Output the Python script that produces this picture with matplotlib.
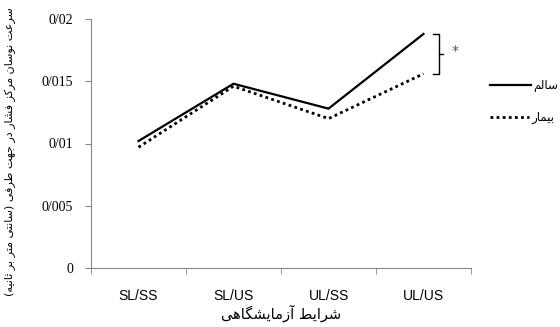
import matplotlib
matplotlib.use("Agg")
import matplotlib.pyplot as plt
from matplotlib.lines import Line2D

categories = ["SL/SS", "SL/US", "UL/SS", "UL/US"]
healthy = [0.0102, 0.0148, 0.0128, 0.0188]
patient = [0.0097, 0.0146, 0.0120, 0.0156]
yticks = [0, 0.005, 0.01, 0.015, 0.02]
ytick_labels = ["0", "0/005", "0/01", "0/015", "0/02"]
label_healthy = "سالم"
label_patient = "بیمار"
xlabel = "شرایط آزمایشگاهی"
ylabel = "سرعت نوسان مرکز فشار در جهت طرفی (سانتی متر بر ثانیه)"

# minimal Persian shaper (presentation forms), visual order
FORMS = {
    '\u0627': ('\uFE8D', '\uFE8E', None, None),
    '\u0622': ('\uFE81', '\uFE82', None, None),
    '\u0628': ('\uFE8F', '\uFE90', '\uFE91', '\uFE92'),
    '\u062A': ('\uFE95', '\uFE96', '\uFE97', '\uFE98'),
    '\u062B': ('\uFE99', '\uFE9A', '\uFE9B', '\uFE9C'),
    '\u062C': ('\uFE9D', '\uFE9E', '\uFE9F', '\uFEA0'),
    '\u062F': ('\uFEA9', '\uFEAA', None, None),
    '\u0631': ('\uFEAD', '\uFEAE', None, None),
    '\u0632': ('\uFEAF', '\uFEB0', None, None),
    '\u0633': ('\uFEB1', '\uFEB2', '\uFEB3', '\uFEB4'),
    '\u0634': ('\uFEB5', '\uFEB6', '\uFEB7', '\uFEB8'),
    '\u0637': ('\uFEC1', '\uFEC2', '\uFEC3', '\uFEC4'),
    '\u0639': ('\uFEC9', '\uFECA', '\uFECB', '\uFECC'),
    '\u0641': ('\uFED1', '\uFED2', '\uFED3', '\uFED4'),
    '\u0644': ('\uFEDD', '\uFEDE', '\uFEDF', '\uFEE0'),
    '\u0645': ('\uFEE1', '\uFEE2', '\uFEE3', '\uFEE4'),
    '\u0646': ('\uFEE5', '\uFEE6', '\uFEE7', '\uFEE8'),
    '\u0647': ('\uFEE9', '\uFEEA', '\uFEEB', '\uFEEC'),
    '\u0648': ('\uFEED', '\uFEEE', None, None),
    '\u06CC': ('\uFBFC', '\uFBFD', '\uFBFE', '\uFBFF'),
    '\u06A9': ('\uFB8E', '\uFB8F', '\uFB90', '\uFB91'),
    '\u06AF': ('\uFB92', '\uFB93', '\uFB94', '\uFB95'),
}

def shape(s):
    out = []
    n = len(s)
    for i, c in enumerate(s):
        if c not in FORMS:
            out.append(c)
            continue
        prev = s[i - 1] if i > 0 else None
        nxt = s[i + 1] if i < n - 1 else None
        join_prev = prev in FORMS and FORMS[prev][2] is not None
        can_next = FORMS[c][2] is not None and nxt in FORMS
        iso, fin, ini, med = FORMS[c]
        if join_prev and can_next:
            out.append(med)
        elif join_prev:
            out.append(fin)
        elif can_next:
            out.append(ini)
        else:
            out.append(iso)
    vis = ''.join(reversed(out))
    vis = vis.translate(str.maketrans({'(': ')', ')': '('}))
    return vis

AR = ['DejaVu Sans']

fig = plt.figure(figsize=(5.6, 3.27), dpi=100)
ax = fig.add_axes([91 / 560, 59 / 327, 380 / 560, 249 / 327])

x = list(range(len(categories)))
ax.plot(x, healthy, color='black', lw=1.6, solid_joinstyle='miter')
ax.plot(x, patient, color='black', lw=2.0, linestyle=(0, (1, 1.2)))

ax.set_xlim(-0.5, 3.5)
ax.set_ylim(0, 0.02)
ax.set_yticks(yticks)
ax.set_yticklabels(ytick_labels, family='Liberation Serif', fontsize=10)
ax.set_xticks(x)
ax.set_xticklabels(categories, family='Liberation Sans', fontsize=10)
ax.set_xticks([-0.5, 0.5, 1.5, 2.5, 3.5], minor=True)
ax.tick_params(axis='x', which='major', length=0, pad=15)
ax.tick_params(axis='x', which='minor', length=4, color='#868686')
ax.tick_params(axis='y', length=4, color='#868686', pad=9)
for s in ['top', 'right']:
    ax.spines[s].set_visible(False)
for s in ['left', 'bottom']:
    ax.spines[s].set_color('#868686')
    ax.spines[s].set_linewidth(0.8)

# significance bracket
bx = 3.16
y1, y2 = healthy[3], patient[3]
ax.plot([bx - 0.055, bx, bx, bx - 0.055], [y1, y1, y2, y2], color='black', lw=1.0, clip_on=False)
ax.plot([bx, bx + 0.05], [(y1 + y2) / 2, (y1 + y2) / 2], color='black', lw=1.0, clip_on=False)
ax.text(bx + 0.17, (y1 + y2) / 2 + 0.0002, '*', ha='center', va='center', fontsize=10, color='#555555')

ax.set_xlabel(shape(xlabel), family=AR, fontsize=10.5, labelpad=1)
fig.text(10 / 560, 1 - 152 / 327, shape(ylabel), rotation=90, ha='center', va='center', family=AR, fontsize=8)

# legend
fig.add_artist(Line2D([490 / 560, 531 / 560], [1 - 85 / 327, 1 - 85 / 327], transform=fig.transFigure, color='black', lw=1.6))
fig.add_artist(Line2D([490 / 560, 529 / 560], [1 - 117 / 327, 1 - 117 / 327], transform=fig.transFigure, color='black', lw=2.0, linestyle=(0, (1, 1.2))))
fig.text(533 / 560, 1 - 85 / 327, shape(label_healthy), ha='left', va='center', family=AR, fontsize=8.5)
fig.text(531 / 560, 1 - 117 / 327, shape(label_patient), ha='left', va='center', family=AR, fontsize=8.5)

fig.savefig('out.png', dpi=100)
